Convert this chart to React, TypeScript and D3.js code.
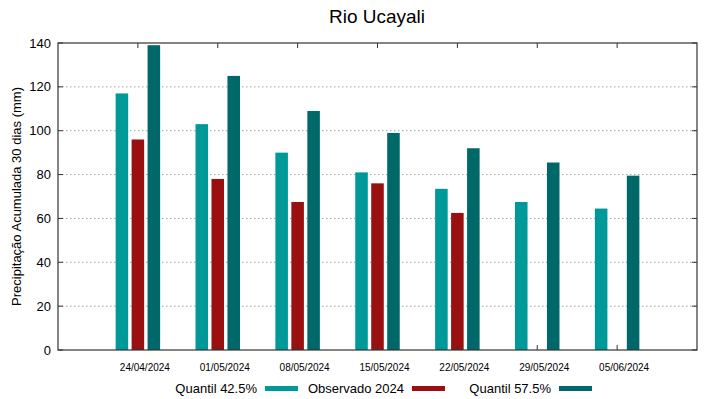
import React, { useEffect, useRef } from "react";
import * as d3 from "d3";

const dates = ["24/04/2024", "01/05/2024", "08/05/2024", "15/05/2024", "22/05/2024", "29/05/2024", "05/06/2024"];
const q425 = [117, 103, 90, 81, 73.5, 67.5, 64.5];
const observado = [96, 78, 67.5, 76, 62.5, null, null];
const q575 = [139, 125, 109, 99, 92, 85.5, 79.5];
const yTicks = [0, 20, 40, 60, 80, 100, 120, 140];

const series = [
  { name: "Quantil 42.5%", values: q425, color: "#009999", offset: -0.2 },
  { name: "Observado 2024", values: observado, color: "#9a0f0f", offset: 0 },
  { name: "Quantil 57.5%", values: q575, color: "#006868", offset: 0.2 },
];

const App = () => {
  const svgRef = useRef(null);

  useEffect(() => {
    const svg = d3.select(svgRef.current);
    svg.selectAll("*").remove();
    const left = 58, right = 697, top = 43, bottom = 350;
    const font = "Liberation Sans, Arial, sans-serif";

    const x = d3.scaleLinear().domain([-1, 7]).range([left, right]);
    const y = d3.scaleLinear().domain([0, 140]).range([bottom, top]);
    const bw = x(0.157) - x(0);

    svg.append("rect").attr("width", 719).attr("height", 399).attr("fill", "#fff");

    // grid
    svg.selectAll("line.grid")
      .data(yTicks.slice(1, -1))
      .join("line")
      .attr("x1", left).attr("x2", right)
      .attr("y1", d => y(d)).attr("y2", d => y(d))
      .attr("stroke", "#a0a0a0").attr("stroke-width", 1)
      .attr("stroke-dasharray", "1.5,2.5");

    // bars
    series.forEach(s => {
      svg.append("g")
        .selectAll("rect")
        .data(s.values.map((v, i) => ({ v, i })).filter(d => d.v != null))
        .join("rect")
        .attr("x", d => x(d.i + s.offset) - bw / 2)
        .attr("y", d => y(d.v))
        .attr("width", bw)
        .attr("height", d => y(0) - y(d.v))
        .attr("fill", s.color);
    });

    // frame
    svg.append("rect")
      .attr("x", left).attr("y", top)
      .attr("width", right - left).attr("height", bottom - top)
      .attr("fill", "none").attr("stroke", "#333").attr("stroke-width", 1.2);

    // tick marks
    yTicks.forEach(t => {
      svg.append("line").attr("x1", left).attr("x2", left + 5)
        .attr("y1", y(t)).attr("y2", y(t)).attr("stroke", "#333");
      svg.append("line").attr("x1", right).attr("x2", right - 5)
        .attr("y1", y(t)).attr("y2", y(t)).attr("stroke", "#333");
    });
    dates.forEach((d, i) => {
      svg.append("line").attr("x1", x(i)).attr("x2", x(i))
        .attr("y1", bottom).attr("y2", bottom - 5).attr("stroke", "#333");
      svg.append("line").attr("x1", x(i)).attr("x2", x(i))
        .attr("y1", top).attr("y2", top + 5).attr("stroke", "#333");
    });

    // y tick labels
    svg.selectAll("text.yt")
      .data(yTicks)
      .join("text")
      .attr("x", left - 7).attr("y", d => y(d))
      .attr("dy", "0.35em")
      .attr("text-anchor", "end")
      .attr("font-family", font).attr("font-size", 13)
      .text(d => d);

    // x tick labels
    svg.selectAll("text.xt")
      .data(dates)
      .join("text")
      .attr("x", (d, i) => x(i) + 7).attr("y", bottom + 21)
      .attr("text-anchor", "middle")
      .attr("font-family", font).attr("font-size", 10)
      .text(d => d);

    // title
    svg.append("text")
      .attr("x", 377).attr("y", 23)
      .attr("text-anchor", "middle")
      .attr("font-family", font).attr("font-size", 19)
      .text("Rio Ucayali");

    // y label
    svg.append("text")
      .attr("transform", `translate(21,${(top + bottom) / 2}) rotate(-90)`)
      .attr("text-anchor", "middle")
      .attr("font-family", font).attr("font-size", 13)
      .text("Precipitação Acumulada 30 dias (mm)");

    // legend
    const legendX = [257, 404, 551];
    series.forEach((s, i) => {
      svg.append("text")
        .attr("x", legendX[i]).attr("y", 393)
        .attr("text-anchor", "end")
        .attr("font-family", font).attr("font-size", 13)
        .text(s.name);
      svg.append("rect")
        .attr("x", legendX[i] + 8).attr("y", 386)
        .attr("width", 33).attr("height", 5)
        .attr("fill", s.color);
    });
  }, []);

  return <svg ref={svgRef} width={719} height={399} style={{ position: "absolute", left: 0, top: 0 }}></svg>;
};

export default App;
